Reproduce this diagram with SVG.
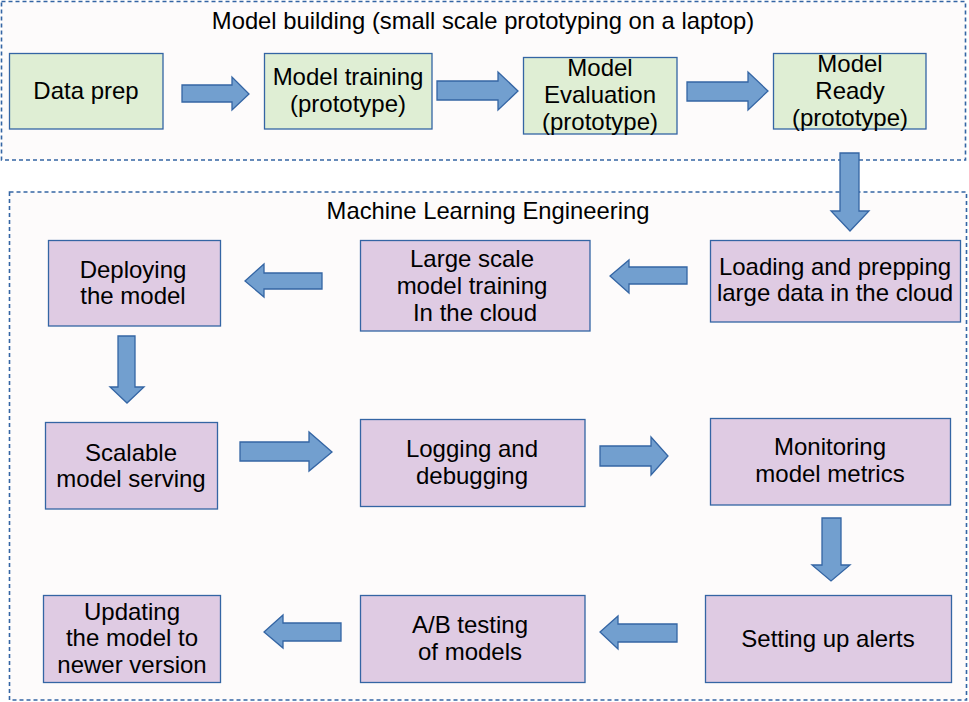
<svg xmlns="http://www.w3.org/2000/svg" width="969" height="702" viewBox="0 0 969 702">
<style>
text{font-family:"Liberation Sans",Arial,sans-serif;fill:#000;text-anchor:middle}
.t{font-size:23.8px}
.n{font-size:24px}
.cont{fill:#fdfbfb;stroke:#3465a4;stroke-width:1.6;stroke-dasharray:4 3}
.g{fill:#dfeed4;stroke:#3465a4;stroke-width:1.3}
.p{fill:#dfcbe3;stroke:#3465a4;stroke-width:1.3}
.a{fill:#729fcf;stroke:#3465a4;stroke-width:1.3;stroke-linejoin:miter}
</style>
<rect width="969" height="702" fill="#ffffff"/>
<g id="cont-top"><rect class="cont" x="1.5" y="1.5" width="964" height="158.5"/><text class="t" x="483" y="29">Model building (small scale prototyping on a laptop)</text></g>
<g id="cont-bottom"><rect class="cont" x="9.5" y="192" width="957" height="508"/><text class="t" x="488" y="219">Machine Learning Engineering</text></g>

<g id="data-prep"><rect class="g" x="9.5" y="53.5" width="153.5" height="75.5"/><text class="n" x="86" y="99">Data prep</text></g>
<g id="model-training"><rect class="g" x="264.5" y="53.5" width="167.5" height="75.5"/><text class="n" x="348" y="85">Model training</text><text class="n" x="348" y="112">(prototype)</text></g>
<g id="model-evaluation"><rect class="g" x="523.5" y="57.5" width="153.5" height="76.5"/><text class="n" x="600" y="76">Model</text><text class="n" x="600" y="103">Evaluation</text><text class="n" x="600" y="130">(prototype)</text></g>
<g id="model-ready"><rect class="g" x="773.5" y="53.5" width="152.5" height="75.5"/><text class="n" x="850" y="72">Model</text><text class="n" x="850" y="99">Ready</text><text class="n" x="850" y="126">(prototype)</text></g>

<g id="deploying"><rect class="p" x="48.5" y="240.5" width="172" height="85.5"/><text class="n" x="133" y="278">Deploying</text><text class="n" x="133" y="304">the model</text></g>
<g id="large-scale"><rect class="p" x="360.5" y="240.5" width="229.5" height="90.5"/><text class="n" x="472" y="267">Large scale</text><text class="n" x="472" y="294">model training</text><text class="n" x="475" y="321">In the cloud</text></g>
<g id="loading"><rect class="p" x="710.5" y="240.5" width="250" height="81.5"/><text class="n" x="835" y="275">Loading and prepping</text><text class="n" x="835" y="301">large data in the cloud</text></g>

<g id="scalable"><rect class="p" x="45.5" y="422.5" width="172" height="86.5"/><text class="n" x="131" y="461">Scalable</text><text class="n" x="131" y="487">model serving</text></g>
<g id="logging"><rect class="p" x="360.5" y="419.5" width="224.5" height="87"/><text class="n" x="472" y="457">Logging and</text><text class="n" x="472" y="484">debugging</text></g>
<g id="monitoring"><rect class="p" x="710.5" y="418.5" width="240" height="86.5"/><text class="n" x="830" y="455">Monitoring</text><text class="n" x="830" y="482">model metrics</text></g>

<g id="updating"><rect class="p" x="43.5" y="595.5" width="177" height="87"/><text class="n" x="132" y="620">Updating</text><text class="n" x="132" y="646">the model to</text><text class="n" x="132" y="673">newer version</text></g>
<g id="ab-testing"><rect class="p" x="360.5" y="595.5" width="224.5" height="87"/><text class="n" x="470" y="633">A/B testing</text><text class="n" x="470" y="660">of models</text></g>
<g id="alerts"><rect class="p" x="705.5" y="595.5" width="246" height="87"/><text class="n" x="828" y="647">Setting up alerts</text></g>

<g id="connectors">
<polygon class="a" points="182,85 232,85 232,77 249,94 232,110 232,102 182,102"/>
<polygon class="a" points="437,81 498,81 498,72 518,91 498,110 498,100 437,100"/>
<polygon class="a" points="687,82 748,82 748,72 768,91 748,110 748,101 687,101"/>
<polygon class="a" points="840,153 859,153 859,211 869,211 850,231 831,211 840,211"/>
<polygon class="a" points="322,273 264,273 264,264 245,281 264,297 264,289 322,289"/>
<polygon class="a" points="687,267 629,267 629,260 610,276 629,293 629,284 687,284"/>
<polygon class="a" points="118,336 135,336 135,387 144,387 127,403 110,387 118,387"/>
<polygon class="a" points="240,442 309,442 309,432 332,452 309,471 309,461 240,461"/>
<polygon class="a" points="600,446 651,446 651,437 668,456 651,475 651,466 600,466"/>
<polygon class="a" points="822,518 841,518 841,565 850,565 831,581 812,565 822,565"/>
<polygon class="a" points="341,623 283,623 283,615 264,632 283,648 283,641 341,641"/>
<polygon class="a" points="677,624 618,624 618,616 600,632 618,649 618,642 677,642"/>
</g>
</svg>
